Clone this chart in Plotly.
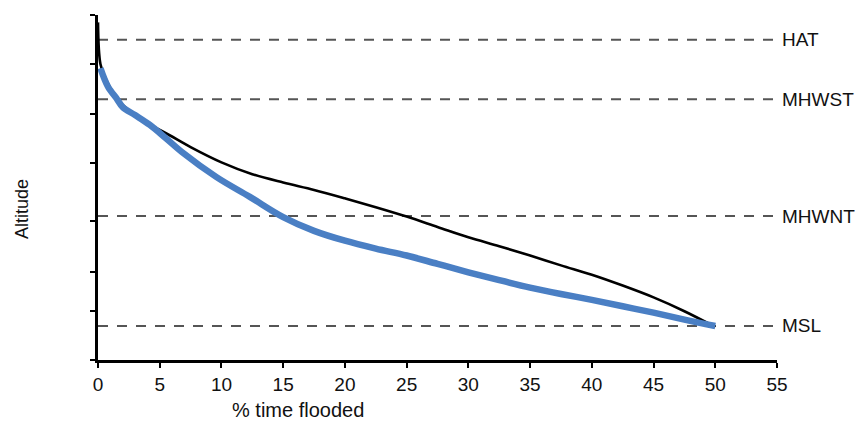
import plotly.graph_objects as go

# Data
black_x = [0, 0.2, 0.6, 1.5, 2.5, 4.2, 5.8, 7.5, 10, 12.5, 15, 17.5, 20, 22.5, 25, 27.5, 30, 32.5, 35, 37.5, 40, 42.5, 45, 47.5, 50]
black_y = [6.85, 6.0, 5.72, 5.32, 5.06, 4.78, 4.56, 4.32, 4.01, 3.77, 3.60, 3.45, 3.28, 3.10, 2.91, 2.70, 2.49, 2.31, 2.12, 1.92, 1.73, 1.51, 1.27, 0.99, 0.67]

blue_x = [0.2, 0.8, 1.55, 2.0, 3.0, 4.2, 5.5, 6.9, 9.6, 12.3, 15, 17.5, 20, 22.5, 25, 27.5, 30, 32.5, 35, 37.5, 40, 42.5, 45, 47.5, 50]
blue_y = [5.92, 5.55, 5.29, 5.13, 4.97, 4.77, 4.50, 4.20, 3.71, 3.31, 2.90, 2.62, 2.42, 2.26, 2.12, 1.95, 1.78, 1.62, 1.47, 1.34, 1.22, 1.09, 0.96, 0.82, 0.69]

level_names = ["HAT", "MHWST", "MHWNT", "MSL"]
level_values = [6.5, 5.29, 2.92, 0.69]

x_ticks = [0, 5, 10, 15, 20, 25, 30, 35, 40, 45, 50, 55]
y_ticks = [0, 1, 1.79, 2.82, 4, 5, 6, 7]

FONT = "Liberation Sans, Arial, sans-serif"

# page has an 8px body margin; figure sized to fit the 863x421 window
W, H = 855, 413
L, T = 90, 7
PW, PH = 679, 345

fig = go.Figure()

for name, val in zip(level_names, level_values):
    fig.add_trace(go.Scatter(
        x=[0, 55], y=[val, val], mode="lines",
        line=dict(color="#555555", width=2, dash="10px,9px"),
        hoverinfo="skip", showlegend=False, cliponaxis=False))
    fig.add_annotation(
        x=1, xref="paper", y=val, yref="y", text=name, showarrow=False,
        xanchor="left", xshift=3, font=dict(family=FONT, size=19, color="#111111"))

fig.add_trace(go.Scatter(
    x=black_x, y=black_y, mode="lines",
    line=dict(color="#000000", width=2.6, shape="spline", smoothing=1.0),
    showlegend=False))
fig.add_trace(go.Scatter(
    x=blue_x, y=blue_y, mode="lines",
    line=dict(color="#4a7fc4", width=6.5, shape="spline", smoothing=1.0),
    showlegend=False))

fig.add_annotation(
    x=(298 - 98) / PW, xref="paper", xanchor="center",
    y=-(410 - 360) / PH, yref="paper", yanchor="middle",
    text="% time flooded", showarrow=False,
    font=dict(family=FONT, size=20, color="#111111"))
fig.add_annotation(
    x=(22 - 98) / PW, xref="paper", xanchor="center",
    y=(360 - 209) / PH, yref="paper", yanchor="middle",
    text="Altitude", showarrow=False, textangle=-90,
    font=dict(family=FONT, size=18, color="#111111"))

fig.update_layout(
    width=W, height=H,
    margin=dict(l=L, r=W - L - PW, t=T, b=H - T - PH),
    paper_bgcolor="white", plot_bgcolor="white",
    font=dict(family=FONT, size=18, color="#111111"),
    xaxis=dict(range=[0, 55], tickvals=x_ticks, ticks="outside", ticklen=5, tickwidth=2,
               tickcolor="#000", showline=True, linecolor="#000", linewidth=2.5,
               showgrid=False, zeroline=False, tickfont=dict(size=19), fixedrange=True),
    yaxis=dict(range=[0, 7], tickvals=y_ticks, ticks="outside", ticklen=5, tickwidth=2,
               tickcolor="#000", showline=True, linecolor="#000", linewidth=2.5,
               showticklabels=False, showgrid=False, zeroline=False, fixedrange=True),
)

fig.write_html("out.html")
